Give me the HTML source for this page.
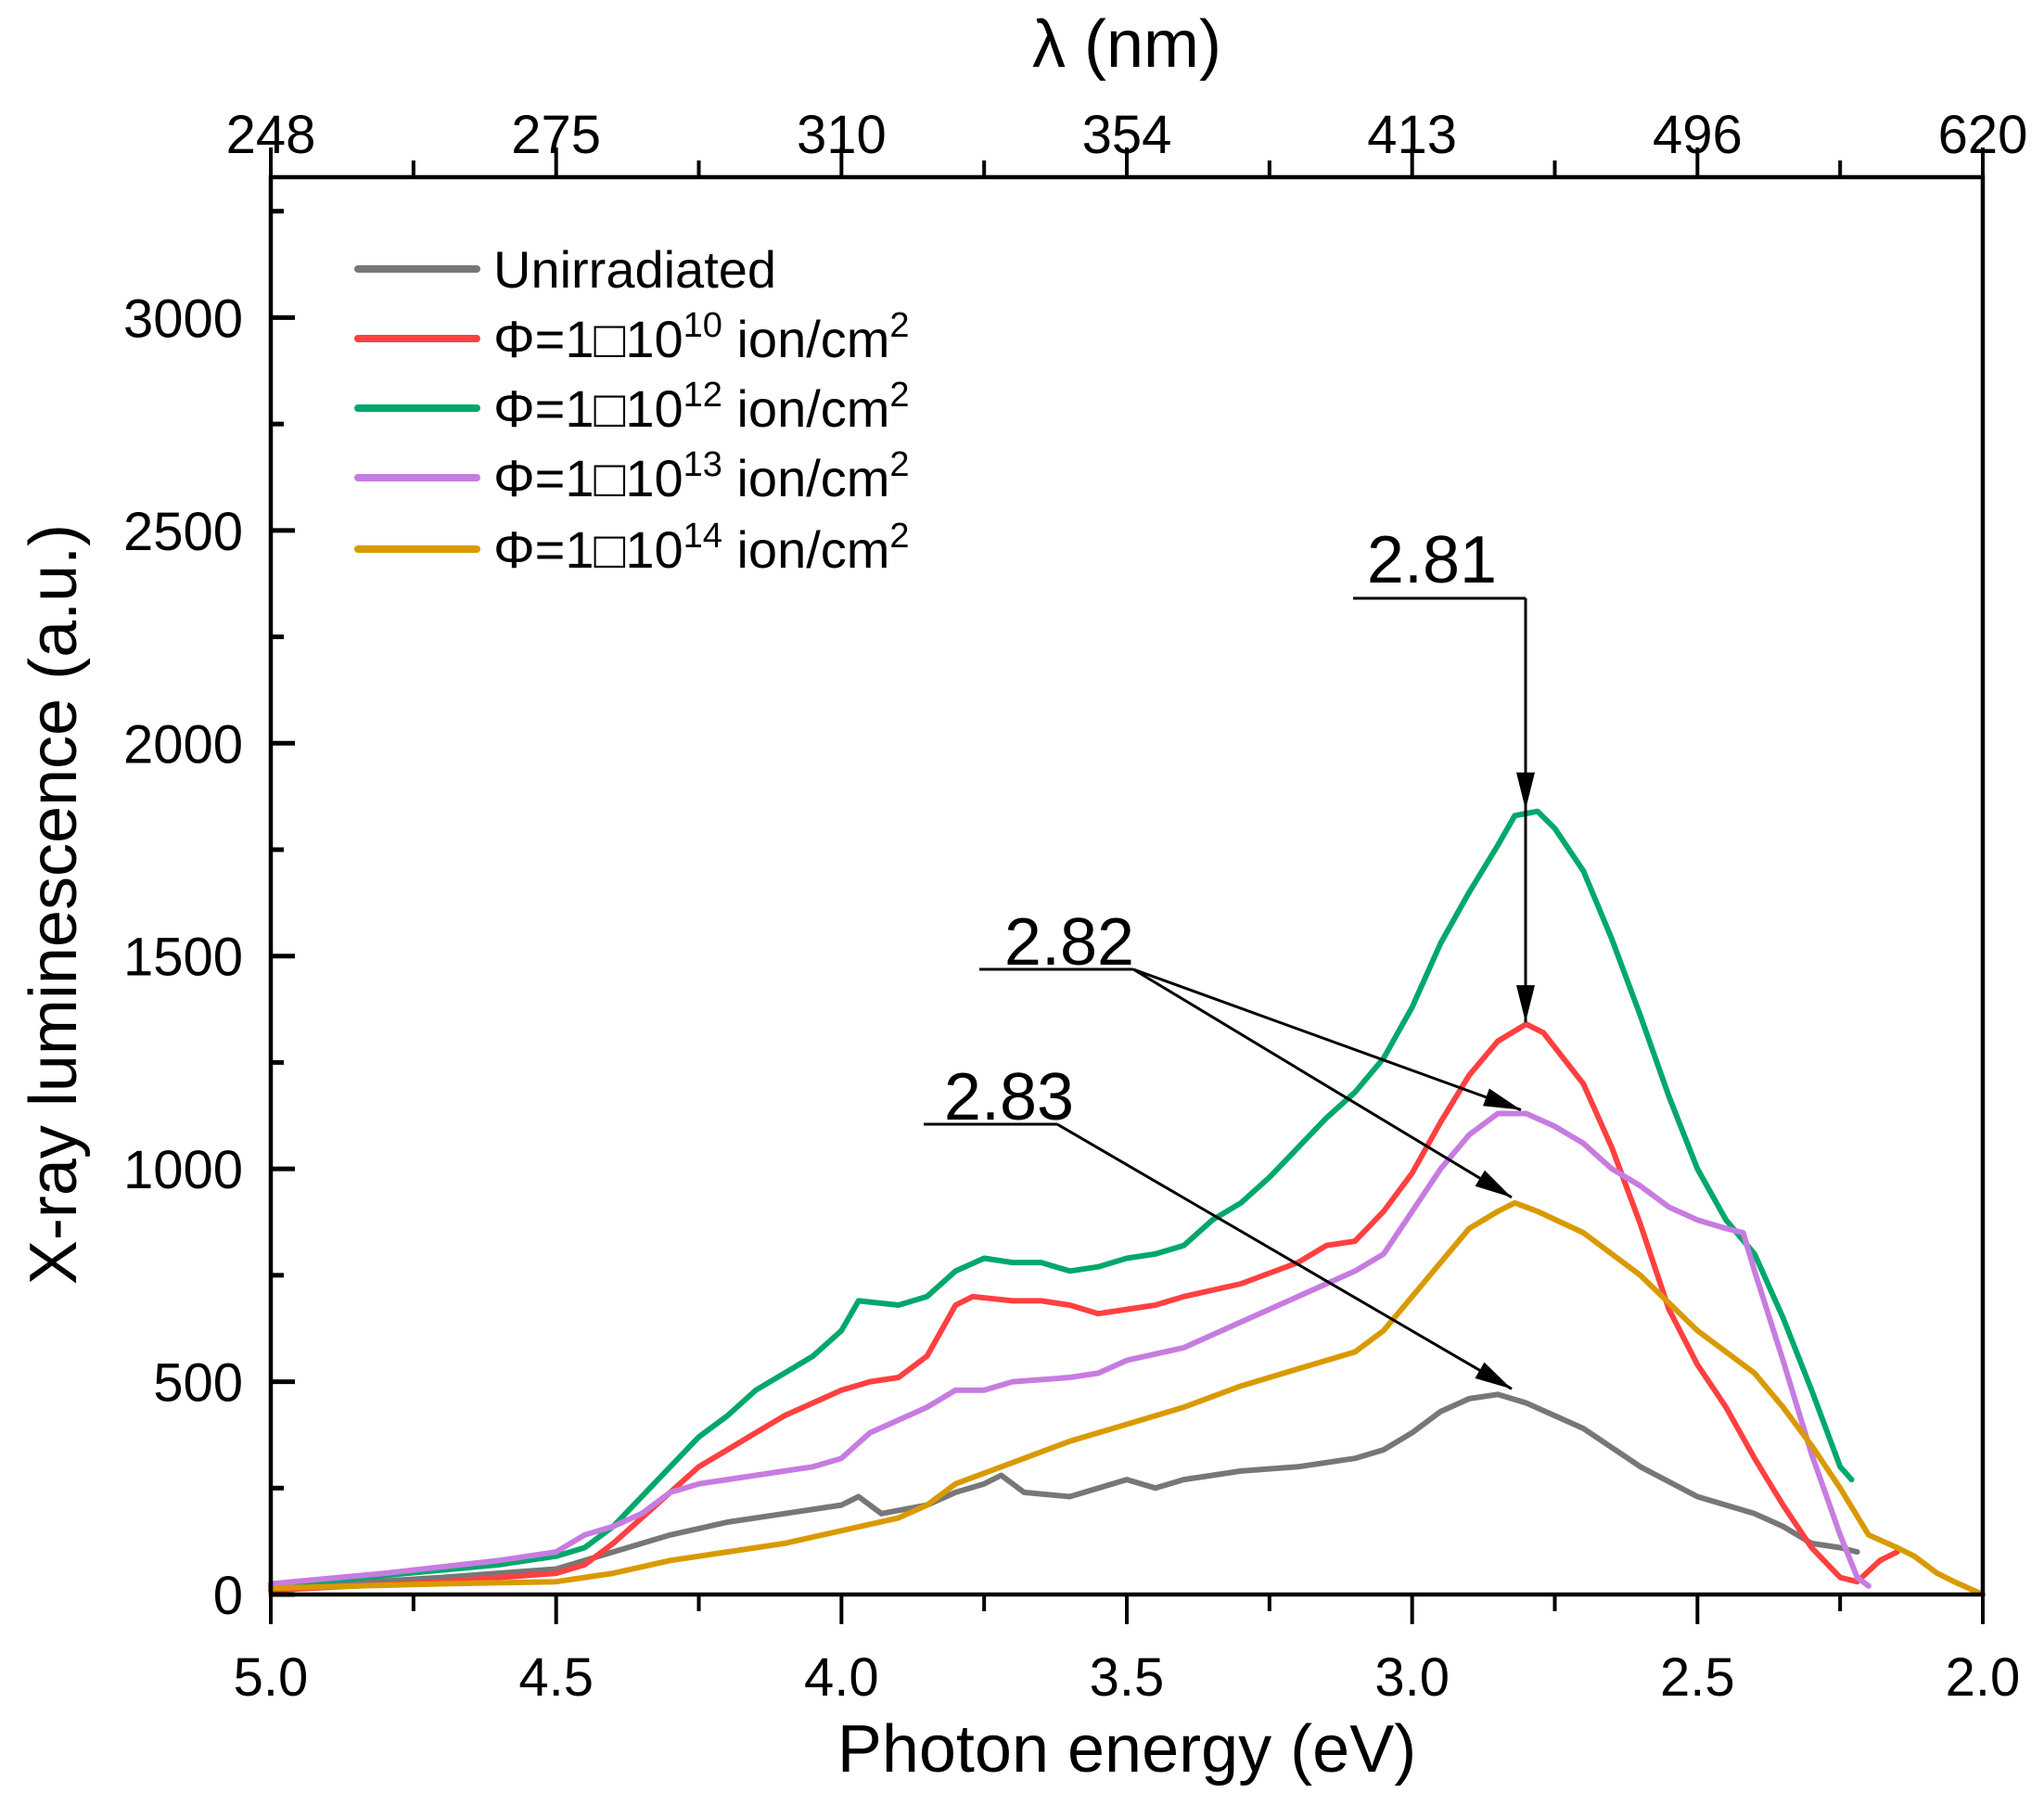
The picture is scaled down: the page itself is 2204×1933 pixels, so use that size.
<!DOCTYPE html>
<html><head><meta charset="utf-8"><style>
html,body{margin:0;padding:0;background:#fff;}
svg{display:block;font-family:"Liberation Sans",Arial,sans-serif;}
</style></head><body>
<svg id="chart" width="2204" height="1933" viewBox="0 0 2204 1933" xmlns="http://www.w3.org/2000/svg">
<defs>
<marker id="ahb" markerWidth="40" markerHeight="20" refX="40" refY="10" orient="auto" markerUnits="userSpaceOnUse"><path d="M0,0 L40,10 L0,20 z" fill="#000"/></marker></defs>
<g id="plot"></g>
</svg>
<script>
const seriesNames=["Unirradiated","\u03A6=1\u25A110^10 ion/cm2","\u03A6=1\u25A110^12 ion/cm2","\u03A6=1\u25A110^13 ion/cm2","\u03A6=1\u25A110^14 ion/cm2"];
const seriesColors=["#777777","#ff4040","#00a86b","#c77ce0","#d99a00"];
const grayE=[5.0,4.7,4.5,4.4,4.3,4.2,4.1,4.0,3.97,3.93,3.85,3.8,3.75,3.72,3.68,3.6,3.5,3.45,3.4,3.3,3.2,3.1,3.05,3.0,2.95,2.9,2.85,2.8,2.7,2.6,2.5,2.4,2.35,2.3,2.25,2.22];
const grayV=[15,40,60,100,140,170,190,210,230,190,210,240,260,280,240,230,270,250,270,290,300,320,340,380,430,460,470,450,390,300,230,190,160,120,110,100];
const redE=[5.0,4.7,4.5,4.45,4.4,4.35,4.3,4.25,4.2,4.15,4.1,4.05,4.0,3.95,3.9,3.85,3.8,3.77,3.7,3.65,3.6,3.55,3.5,3.45,3.4,3.3,3.2,3.15,3.1,3.05,3.0,2.95,2.9,2.85,2.8,2.77,2.7,2.65,2.6,2.55,2.5,2.45,2.4,2.35,2.3,2.25,2.22,2.18,2.15];
const redV=[10,30,50,70,120,180,240,300,340,380,420,450,480,500,510,560,680,700,690,690,680,660,670,680,700,730,780,820,830,900,990,1110,1220,1300,1340,1320,1200,1050,870,670,540,440,320,210,110,40,30,80,100];
const greenE=[5.0,4.8,4.6,4.5,4.45,4.4,4.35,4.3,4.25,4.2,4.15,4.1,4.05,4.0,3.97,3.9,3.85,3.8,3.75,3.7,3.65,3.6,3.55,3.5,3.45,3.4,3.35,3.3,3.25,3.2,3.15,3.1,3.05,3.0,2.95,2.9,2.85,2.82,2.78,2.75,2.7,2.65,2.6,2.55,2.5,2.45,2.4,2.35,2.3,2.25,2.23];
const greenV=[20,45,70,90,110,160,230,300,370,420,480,520,560,620,690,680,700,760,790,780,780,760,770,790,800,820,880,920,980,1050,1120,1180,1260,1380,1530,1650,1760,1830,1840,1800,1700,1540,1360,1170,1000,880,800,650,480,300,270];
const purpleE=[5.0,4.8,4.6,4.5,4.45,4.4,4.35,4.3,4.25,4.2,4.15,4.1,4.05,4.0,3.95,3.9,3.85,3.8,3.75,3.7,3.6,3.55,3.5,3.4,3.3,3.2,3.1,3.05,3.0,2.95,2.9,2.85,2.8,2.75,2.7,2.65,2.6,2.55,2.5,2.45,2.42,2.4,2.35,2.3,2.25,2.22,2.2];
const purpleV=[25,50,80,100,140,160,190,240,260,270,280,290,300,320,380,410,440,480,480,500,510,520,550,580,640,700,760,800,900,1000,1080,1130,1130,1100,1060,1000,960,910,880,860,850,760,550,330,140,40,20];
const yellowE=[5.0,4.7,4.5,4.45,4.4,4.3,4.2,4.1,4.0,3.9,3.85,3.8,3.7,3.6,3.5,3.4,3.3,3.2,3.1,3.05,3.0,2.95,2.9,2.85,2.82,2.78,2.7,2.6,2.5,2.4,2.35,2.3,2.25,2.2,2.15,2.12,2.08,2.05,2.0];
const yellowV=[15,25,30,40,50,80,100,120,150,180,210,260,310,360,400,440,490,530,570,620,700,780,860,900,920,900,850,750,620,520,440,350,250,140,110,90,50,30,0];
const xTicks=[5.0,4.5,4.0,3.5,3.0,2.5,2.0];
const xTickLabels=["5.0","4.5","4.0","3.5","3.0","2.5","2.0"];
const topTickLabels=["248","275","310","354","413","496","620"];
const yTicks=[0,500,1000,1500,2000,2500,3000];
const peakLabels=["2.81","2.82","2.83"];

const L=292,R=2138,T=191,B=1719,XMIN=5.0,XMAX=2.0,YMAX=3330;
const X=e=>L+(XMIN-e)/(XMIN-XMAX)*(R-L);
const Y=v=>B-v/YMAX*(B-T);
const NS="http://www.w3.org/2000/svg";
const g=document.getElementById('plot');
function mk(tag,attrs,parent){const el=document.createElementNS(NS,tag);for(const k in attrs)el.setAttribute(k,attrs[k]);(parent||g).appendChild(el);return el;}
function txt(s,x,y,size,anchor,parent){const t=mk('text',{x:x,y:y,'font-size':size,'text-anchor':anchor||'middle',fill:'#000'},parent);t.textContent=s;return t;}

const allE=[grayE,redE,greenE,purpleE,yellowE],allV=[grayV,redV,greenV,purpleV,yellowV];
const sNames=['unirradiated-line','fluence-1e10-line','fluence-1e12-line','fluence-1e13-line','fluence-1e14-line'];
for(let s=0;s<5;s++){
  const d=allE[s].map((e,i)=>(i?'L':'M')+X(e).toFixed(1)+','+Y(allV[s][i]).toFixed(1)).join(' ');
  const p=mk('path',{d:d,fill:'none',stroke:seriesColors[s],'stroke-width':6,'stroke-linejoin':'round','stroke-linecap':'round'});
  
  
}

const frame=mk('rect',{x:L,y:T,width:R-L,height:B-T,fill:'none',stroke:'#000','stroke-width':4.5});



for(let i=0;i<xTicks.length;i++){
  const x=X(xTicks[i]);
  mk('line',{x1:x,y1:B,x2:x,y2:B+32,stroke:'#000','stroke-width':4});
  mk('line',{x1:x,y1:T,x2:x,y2:T-32,stroke:'#000','stroke-width':4});
  const t=txt(xTickLabels[i],x,1828,58);
  
  
  const t2=txt(topTickLabels[i],x,165,58);
  
  
  if(i<xTicks.length-1){const xm=X(xTicks[i]-0.25);
    mk('line',{x1:xm,y1:B,x2:xm,y2:B+18,stroke:'#000','stroke-width':4});
    mk('line',{x1:xm,y1:T,x2:xm,y2:T-18,stroke:'#000','stroke-width':4});}
}
for(let i=0;i<yTicks.length;i++){
  const y=Y(yTicks[i]);
  mk('line',{x1:L,y1:y,x2:L+26,y2:y,stroke:'#000','stroke-width':5});
  const t=txt(String(yTicks[i]),262,y+21,58,'end');
  
  
  const ym=Y(yTicks[i]+250);
  if(ym>T) mk('line',{x1:L,y1:ym,x2:L+14,y2:ym,stroke:'#000','stroke-width':5});
}
const xt=txt('Photon energy (eV)',(L+R)/2,1910,72);


const tt=txt('\u03BB (nm)',(L+R)/2,72,72);


const yt=txt('X-ray luminescence (a.u.)',0,0,72);
yt.setAttribute('transform','translate(82,975) rotate(-90)');



const legY=[290,365,440,515,592];
const sups=['','10','12','13','14'];
for(let s=0;s<5;s++){
  const lg=mk('g',{});
  
  
  mk('line',{x1:386,y1:legY[s],x2:514,y2:legY[s],stroke:seriesColors[s],'stroke-width':8,'stroke-linecap':'round'},lg);
  const t=mk('text',{x:532,y:legY[s]+20,'font-size':56,fill:'#000'},lg);
  if(s===0){t.textContent='Unirradiated';}
  else{
    const a=document.createElementNS(NS,'tspan');a.textContent='\u03A6=1\u25A110';t.appendChild(a);
    const b=document.createElementNS(NS,'tspan');b.setAttribute('dy','-22');b.setAttribute('font-size','38');b.textContent=sups[s];t.appendChild(b);
    const c=document.createElementNS(NS,'tspan');c.setAttribute('dy','22');c.textContent=' ion/cm';t.appendChild(c);
    const d=document.createElementNS(NS,'tspan');d.setAttribute('dy','-22');d.setAttribute('font-size','38');d.textContent='2';t.appendChild(d);
  }
}

function ann(label,tx,ty,ux1,ux2,uy,targets,name){
  const ag=mk('g',{});
  
  
  txt(label,tx,ty,72,'middle',ag);
  mk('line',{x1:ux1,y1:uy,x2:ux2,y2:uy,stroke:'#000','stroke-width':3},ag);
  targets.forEach(p=>mk('line',{x1:ux2,y1:uy,x2:p[0],y2:p[1],stroke:'#000','stroke-width':3,'marker-end':'url(#ahb)'},ag));
}
ann(peakLabels[0],1544,628,1459,1645,645,[[1645,Y(1840)-2],[1645,Y(1340)-2]],'peak-annotation-281');
ann(peakLabels[1],1153,1040,1056,1222,1045,[[1640,Y(1130)-4],[1630,Y(920)-6]],'peak-annotation-282');
ann(peakLabels[2],1088,1207,996,1140,1212,[[1630,Y(470)-6]],'peak-annotation-283');
</script>
</body></html>
